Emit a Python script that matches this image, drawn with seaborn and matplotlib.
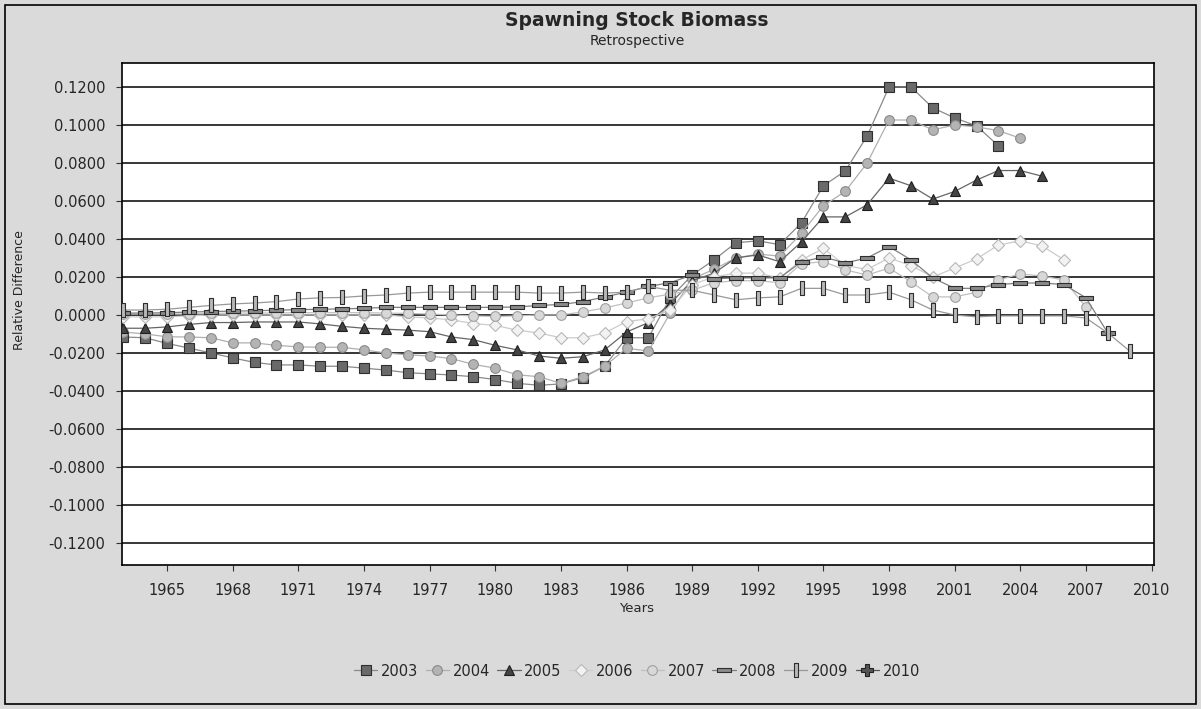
import numpy as np
import pandas as pd
import matplotlib
matplotlib.use("Agg")
import matplotlib.pyplot as plt
import matplotlib.patches as mpatches
from matplotlib.ticker import FormatStrFormatter
import seaborn as sns

# retrospective peels: relative difference in SSB, by year
years_2003 = list(range(1963, 2004))
ssb_2003 = [-0.0116, -0.0120, -0.0150, -0.0174, -0.0200, -0.0226, -0.0250, -0.0263, -0.0263, -0.0270,
            -0.0270, -0.0280, -0.0290, -0.0304, -0.0310, -0.0316, -0.0325, -0.0340, -0.0360, -0.0370,
            -0.0363, -0.0330, -0.0270, -0.0120, -0.0120, 0.0090, 0.0210, 0.0290, 0.0380, 0.0390,
            0.0370, 0.0485, 0.0680, 0.0758, 0.0942, 0.1200, 0.1200, 0.1090, 0.1037, 0.0995, 0.0890]

years_2004 = list(range(1963, 2005))
ssb_2004 = [-0.0090, -0.0100, -0.0115, -0.0116, -0.0120, -0.0147, -0.0147, -0.0160, -0.0168, -0.0170,
            -0.0170, -0.0184, -0.0200, -0.0210, -0.0216, -0.0230, -0.0260, -0.0280, -0.0315, -0.0325,
            -0.0360, -0.0325, -0.0270, -0.0175, -0.0190, 0.0010, 0.0190, 0.0240, 0.0300, 0.0320,
            0.0310, 0.0430, 0.0575, 0.0650, 0.0800, 0.1026, 0.1026, 0.0974, 0.1000, 0.0990, 0.0970, 0.0930]

years_2005 = list(range(1963, 2006))
ssb_2005 = [-0.0070, -0.0070, -0.0063, -0.0050, -0.0040, -0.0040, -0.0037, -0.0037, -0.0037, -0.0047,
            -0.0060, -0.0070, -0.0075, -0.0080, -0.0088, -0.0116, -0.0130, -0.0160, -0.0184, -0.0216,
            -0.0228, -0.0220, -0.0184, -0.0090, -0.0040, 0.0060, 0.0180, 0.0220, 0.0300, 0.0316,
            0.0280, 0.0385, 0.0516, 0.0516, 0.0580, 0.0720, 0.0680, 0.0610, 0.0650, 0.0710, 0.0760,
            0.0760, 0.0730]

years_2006 = list(range(1963, 2007))
ssb_2006 = [-0.0010, -0.0010, -0.0010, -0.0005, 0.0000, 0.0000, 0.0000, 0.0000, 0.0000, 0.0000,
            0.0000, 0.0000, 0.0000, -0.0010, -0.0016, -0.0026, -0.0045, -0.0055, -0.0080, -0.0095,
            -0.0120, -0.0120, -0.0095, -0.0035, -0.0020, 0.0026, 0.0160, 0.0200, 0.0220, 0.0220,
            0.0195, 0.0290, 0.0350, 0.0260, 0.0240, 0.0300, 0.0260, 0.0200, 0.0247, 0.0295, 0.0368,
            0.0390, 0.0363, 0.0290]

years_2007 = list(range(1963, 2008))
ssb_2007 = [0.0005, 0.0005, 0.0005, 0.0005, 0.0008, 0.0010, 0.0010, 0.0010, 0.0012, 0.0012,
            0.0012, 0.0012, 0.0010, 0.0008, 0.0005, 0.0000, -0.0005, -0.0008, -0.0005, 0.0000,
            0.0000, 0.0016, 0.0037, 0.0063, 0.0090, 0.0110, 0.0130, 0.0170, 0.0180, 0.0180,
            0.0170, 0.0270, 0.0280, 0.0237, 0.0210, 0.0247, 0.0174, 0.0095, 0.0095, 0.0120, 0.0184,
            0.0216, 0.0205, 0.0184, 0.0042]

years_2008 = list(range(1963, 2009))
ssb_2008 = [0.0010, 0.0010, 0.0012, 0.0015, 0.0018, 0.0020, 0.0022, 0.0025, 0.0028, 0.0030,
            0.0032, 0.0035, 0.0040, 0.0040, 0.0040, 0.0040, 0.0040, 0.0040, 0.0042, 0.0050,
            0.0055, 0.0070, 0.0095, 0.0120, 0.0150, 0.0170, 0.0210, 0.0190, 0.0195, 0.0195,
            0.0195, 0.0280, 0.0305, 0.0274, 0.0300, 0.0360, 0.0290, 0.0195, 0.0140, 0.0140, 0.0160,
            0.0168, 0.0168, 0.0160, 0.0090, -0.0095]

years_2009 = list(range(1963, 2010))
ssb_2009 = [0.0026, 0.0026, 0.0030, 0.0040, 0.0050, 0.0058, 0.0063, 0.0070, 0.0084, 0.0090,
            0.0092, 0.0100, 0.0105, 0.0115, 0.0120, 0.0120, 0.0120, 0.0120, 0.0120, 0.0115,
            0.0115, 0.0120, 0.0115, 0.0120, 0.0150, 0.0130, 0.0130, 0.0105, 0.0080, 0.0090,
            0.0095, 0.0140, 0.0140, 0.0105, 0.0105, 0.0120, 0.0080, 0.0026, 0.0000, -0.0010,
            -0.0005, -0.0005, -0.0005, -0.0005, -0.0016, -0.0095, -0.0190]

# 2010 is the reference run: no points show on the chart, only in the legend
years_2010 = []
ssb_2010 = []

x_ticks = list(range(1965, 2011, 3))
y_ticks = [round(v, 2) for v in np.arange(-0.12, 0.1201, 0.02)]

frames = []
for name, yrs, vals in [("2003", years_2003, ssb_2003), ("2004", years_2004, ssb_2004),
                        ("2005", years_2005, ssb_2005), ("2006", years_2006, ssb_2006),
                        ("2007", years_2007, ssb_2007), ("2008", years_2008, ssb_2008),
                        ("2009", years_2009, ssb_2009)]:
    frames.append(pd.DataFrame({"year": yrs, "value": vals, "peel": name}))
df = pd.concat(frames, ignore_index=True)

hbar = [(-1, -0.28), (1, -0.28), (1, 0.28), (-1, 0.28), (-1, -0.28)]
vbar = [(-0.28, -1), (0.28, -1), (0.28, 1), (-0.28, 1), (-0.28, -1)]

styles = {
    "2003": dict(marker="s", ms=7.5, mfc="#6a6a6a", mec="#2e2e2e", line="#8a8a8a"),
    "2004": dict(marker="o", ms=7, mfc="#b4b4b4", mec="#8a8a8a", line="#b0b0b0"),
    "2005": dict(marker="^", ms=7.5, mfc="#444444", mec="#1e1e1e", line="#666666"),
    "2006": dict(marker="D", ms=6, mfc="#f2f2f2", mec="#b8b8b8", line="#cccccc"),
    "2007": dict(marker="o", ms=7, mfc="#d8d8d8", mec="#a0a0a0", line="#c0c0c0"),
    "2008": dict(marker=hbar, ms=10, mfc="#8a8a8a", mec="#2e2e2e", line="#808080"),
    "2009": dict(marker=vbar, ms=10, mfc="#b8b8b8", mec="#2e2e2e", line="#999999"),
    "2010": dict(marker="P", ms=8, mfc="#555555", mec="#222222", line="#555555"),
}

sns.set_style("white")
plt.rcParams["font.family"] = ["DejaVu Sans"]

fig = plt.figure(figsize=(12.01, 7.09), dpi=100)
fig.patch.set_facecolor("#dadada")
ax = fig.add_axes([122 / 1201, 1 - 565 / 709, 1032 / 1201, 502 / 709])
ax.set_facecolor("white")

for t in y_ticks:
    ax.axhline(t, color="black", lw=1.1, zorder=0)

for name, grp in df.groupby("peel"):
    st = styles[name]
    sns.lineplot(data=grp, x="year", y="value", ax=ax, color=st["line"], lw=0.9,
                 marker=st["marker"], markersize=st["ms"], markerfacecolor=st["mfc"],
                 markeredgecolor=st["mec"], markeredgewidth=0.8, label=name, zorder=3)

st = styles["2010"]
ax.plot(years_2010, ssb_2010, color=st["line"], lw=0.9, marker=st["marker"], markersize=st["ms"],
        markerfacecolor=st["mfc"], markeredgecolor=st["mec"], markeredgewidth=0.8, label="2010")

ax.set_xlim(1962.94, 2010.11)
ax.set_ylim(-0.1316, 0.1326)
ax.set_xticks(x_ticks)
ax.set_yticks(y_ticks)
ax.yaxis.set_major_formatter(FormatStrFormatter("%.4f"))
ax.tick_params(axis="both", direction="out", length=4, width=0.8, color="#333333",
               labelsize=10.5, bottom=True, left=True)
ax.tick_params(axis="x", pad=9)
ax.tick_params(axis="y", pad=8)
for sp in ax.spines.values():
    sp.set_color("black")
    sp.set_linewidth(1.2)

ax.set_xlabel("")
ax.set_ylabel("")
fig.text(637 / 1201, 1 - 608 / 709, "Years", ha="center", va="center", fontsize=9.5)
fig.text(20 / 1201, 1 - 290 / 709, "Relative Difference", ha="center", va="center",
         rotation=90, fontsize=9)
fig.text(637 / 1201, 1 - 20 / 709, "Spawning Stock Biomass", ha="center", va="center",
         fontsize=13.5, fontweight="bold")
fig.text(637 / 1201, 1 - 41 / 709, "Retrospective", ha="center", va="center", fontsize=10)

handles, labels = ax.get_legend_handles_labels()
ax.legend(handles, labels, loc="center", bbox_to_anchor=(637 / 1201, 1 - 671 / 709),
          bbox_transform=fig.transFigure, ncol=8, frameon=False, fontsize=10.5,
          handlelength=1.6, handletextpad=0.25, columnspacing=0.5, borderaxespad=0)

fig.patches.append(mpatches.Rectangle((5 / 1201, 5 / 709), 1191 / 1201, 699 / 709,
                                      transform=fig.transFigure, fill=False,
                                      edgecolor="black", lw=1.2))

fig.savefig("out.png", dpi=100, facecolor=fig.get_facecolor())
